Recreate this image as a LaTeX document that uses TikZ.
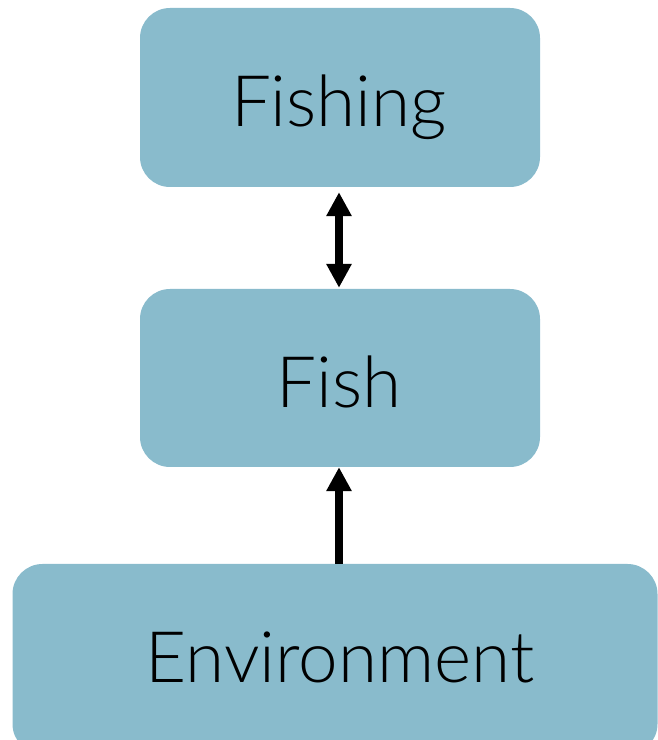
\documentclass[tikz,border=0pt]{standalone}
\usepackage{fontspec}
\setmainfont{Lato}[UprightFont=* Light]
\usetikzlibrary{arrows.meta}
\definecolor{boxblue}{RGB}{137,187,204}
\tikzset{
  box/.style={fill=boxblue,rounded corners=30pt,inner sep=0pt},
  lbl/.style={anchor=base,inner sep=0pt,font=\fontsize{71}{78}\selectfont},
  link/.style={line width=8pt,-{Triangle[width=24pt,length=24pt]}},
  link2/.style={line width=8pt,{Triangle[width=24pt,length=24pt]}-{Triangle[width=24pt,length=24pt]}},
}
\begin{document}
\begin{tikzpicture}[x=1pt,y=1pt]
\useasboundingbox (0,0) rectangle (658,740);
\node[box,minimum width=400pt,minimum height=179pt] (fishing) at (340,{740-97.5}) {};
\node[box,minimum width=400pt,minimum height=178pt] (fish) at (340,{740-378}) {};
\node[box,minimum width=645pt,minimum height=190pt] (env) at (335,{740-659}) {};
\node[lbl] (tfishing) at (339,{740-127}) {Fishing};
\node[lbl] (tfish) at (339,{740-408}) {Fish};
\node[lbl] (tenv) at (340,{740-683}) {Environment};
\draw[link2,shorten <=5pt,shorten >=1pt] (fishing.south -| 339,0) -- (fish.north -| 339,0);
\draw[link,shorten >=0pt] (env.north -| 339,0) -- (fish.south -| 339,0);
\end{tikzpicture}
\end{document}
